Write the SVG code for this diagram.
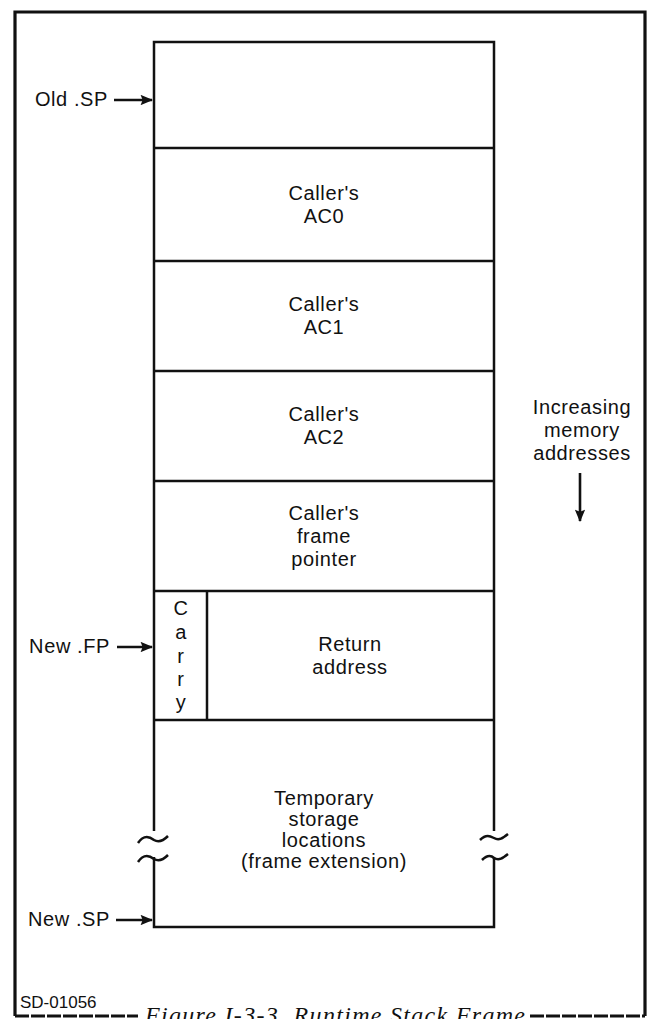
<svg xmlns="http://www.w3.org/2000/svg" width="649" height="1019" viewBox="0 0 649 1019">
<defs>
<style>
.t{font-family:"Liberation Sans",Arial,sans-serif;font-size:20px;fill:#111;letter-spacing:0.6px}
.c{text-anchor:middle}
.e{text-anchor:end}
.ln{stroke:#111;stroke-width:2.5;fill:none}
.fr{stroke:#111;stroke-width:3.2;fill:none}
.ar{stroke:#111;stroke-width:2.6;fill:none}
</style>
<marker id="ah" viewBox="0 0 12 10" refX="11" refY="5" markerWidth="5" markerHeight="4" markerUnits="strokeWidth" orient="auto">
<path d="M0,0 L12,5 L0,10 L2,5 Z" fill="#111"/>
</marker>
</defs>
<rect width="649" height="1019" fill="#fff"/>
<g id="frame">
<path class="fr" d="M15,1016 L15,12 L645,12 L645,1016"/>
<path class="fr" d="M15,1016 L138,1016 M530,1016 L645,1016" stroke-dasharray="14,2" stroke-width="2.2"/>
</g>
<g id="stack">
<path class="ln" d="M154,831 L154,42 L494,42 L494,831"/>
<path class="ln" d="M154,857 L154,927 L494,927 L494,857"/>
<path class="ln" d="M154,148 H494 M154,261 H494 M154,371 H494 M154,481 H494 M154,591 H494 M154,720 H494 M207,591 V720"/>
<path class="ln" d="M138,843 C144,834 150,837 154,840 C159,843 164,840 168,836"/>
<path class="ln" d="M138,862 C144,853 150,856 154,859 C159,862 164,859 168,855"/>
<path class="ln" d="M480,840 C486,834 490,836 494,838 C499,841 503,838 508,834"/>
<path class="ln" d="M482,860 C488,854 492,856 494,858 C499,861 503,858 508,854"/>
</g>
<g id="old-sp"><rect x="154" y="42" width="340" height="106" fill="none"/></g>
<g id="ac0"><text class="t c" x="324" y="200">Caller's</text><text class="t c" x="324" y="223">AC0</text></g>
<g id="ac1"><text class="t c" x="324" y="311">Caller's</text><text class="t c" x="324" y="334">AC1</text></g>
<g id="ac2"><text class="t c" x="324" y="421">Caller's</text><text class="t c" x="324" y="444">AC2</text></g>
<g id="fp"><text class="t c" x="324" y="520">Caller's</text><text class="t c" x="324" y="543">frame</text><text class="t c" x="324" y="566">pointer</text></g>
<g id="carry"><text class="t c" x="181" y="615">C</text><text class="t c" x="181" y="639">a</text><text class="t c" x="181" y="663">r</text><text class="t c" x="181" y="686">r</text><text class="t c" x="181" y="709">y</text></g>
<g id="ret"><text class="t c" x="350" y="651">Return</text><text class="t c" x="350" y="674">address</text></g>
<g id="temp"><text class="t c" x="324" y="805">Temporary</text><text class="t c" x="324" y="826">storage</text><text class="t c" x="324" y="847">locations</text><text class="t c" x="324" y="868">(frame extension)</text></g>
<g id="labels">
<text class="t e" x="108" y="106">Old .SP</text>
<text class="t e" x="110" y="653">New .FP</text>
<text class="t e" x="110" y="926">New .SP</text>
<text class="t c" x="582" y="414">Increasing</text>
<text class="t c" x="582" y="437">memory</text>
<text class="t c" x="582" y="460">addresses</text>
<text x="20" y="1008" style="font-family:'Liberation Sans',Arial,sans-serif;font-size:17px;fill:#111">SD-01056</text>
<text x="145" y="1023" style="font-family:'Liberation Serif','Times New Roman',serif;font-style:italic;font-size:24px;fill:#111" textLength="380">Figure I-3-3. Runtime Stack Frame</text>
</g>
<g id="connectors">
<line class="ar" x1="114" y1="100" x2="152" y2="100" marker-end="url(#ah)"/>
<line class="ar" x1="117" y1="647" x2="152" y2="647" marker-end="url(#ah)"/>
<line class="ar" x1="116" y1="920" x2="152" y2="920" marker-end="url(#ah)"/>
<line class="ar" x1="580" y1="473" x2="580" y2="521" marker-end="url(#ah)"/>
</g>
</svg>
